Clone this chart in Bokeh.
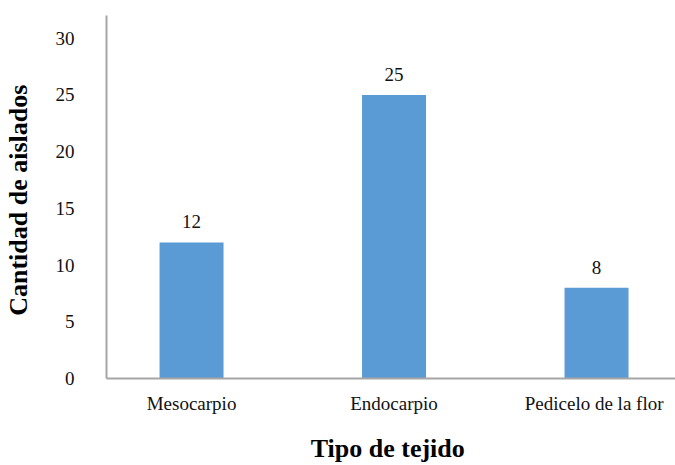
from bokeh.plotting import figure
from bokeh.models import ColumnDataSource, Range1d, FixedTicker, LabelSet
from bokeh.embed import file_html
from bokeh.resources import INLINE

categories = ["Mesocarpio", "Endocarpio", "Pedicelo  de la flor"]
counts = [12, 25, 8]
y_ticks = [0, 5, 10, 15, 20, 25, 30]

xpos = list(range(len(categories)))
src = ColumnDataSource(dict(x=xpos, y=counts, lab=[str(c) for c in counts]))

FONT = "Liberation Serif"

p = figure(width=675, height=465, output_backend="svg", toolbar_location=None,
           x_range=Range1d(-0.42, 2.39), y_range=Range1d(0, 32),
           min_border_left=106, min_border_right=0, min_border_top=15, min_border_bottom=0)
p.outline_line_color = None
p.grid.grid_line_color = None
p.background_fill_color = "white"

p.vbar(x="x", top="y", width=0.316, source=src, fill_color="#5B9BD5", line_color=None)

labels = LabelSet(x="x", y="y", text="lab", source=src, text_align="center",
                  text_baseline="bottom", y_offset=14, text_font=FONT,
                  text_font_size="19px", text_color="#111111")
p.add_layout(labels)

p.yaxis.ticker = FixedTicker(ticks=y_ticks)
p.yaxis.major_tick_line_color = None
p.yaxis.minor_tick_line_color = None
p.yaxis.axis_line_color = "#a6a6a6"
p.yaxis.axis_line_width = 2
p.yaxis.major_label_text_font = FONT
p.yaxis.major_label_text_font_size = "19px"
p.yaxis.major_label_text_color = "#111111"
p.yaxis.major_label_standoff = 26
p.yaxis.axis_label = "Cantidad  de aislados"
p.yaxis.axis_label_text_font = FONT
p.yaxis.axis_label_text_font_style = "bold"
p.yaxis.axis_label_text_font_size = "26px"
p.yaxis.axis_label_text_color = "#000000"
p.yaxis.axis_label_standoff = 20

p.xaxis.ticker = FixedTicker(ticks=xpos)
p.xaxis.major_label_overrides = {i: c for i, c in zip(xpos, categories)}
p.xaxis.major_tick_line_color = None
p.xaxis.minor_tick_line_color = None
p.xaxis.axis_line_color = "#a6a6a6"
p.xaxis.axis_line_width = 2
p.xaxis.major_label_text_font = FONT
p.xaxis.major_label_text_font_size = "19px"
p.xaxis.major_label_text_color = "#111111"
p.xaxis.major_label_standoff = 8
p.xaxis.axis_label = "Tipo  de tejido"
p.xaxis.axis_label_text_font = FONT
p.xaxis.axis_label_text_font_style = "bold"
p.xaxis.axis_label_text_font_size = "26px"
p.xaxis.axis_label_text_color = "#000000"
p.xaxis.axis_label_standoff = 17

open("out.html", "w").write(file_html(p, INLINE))
